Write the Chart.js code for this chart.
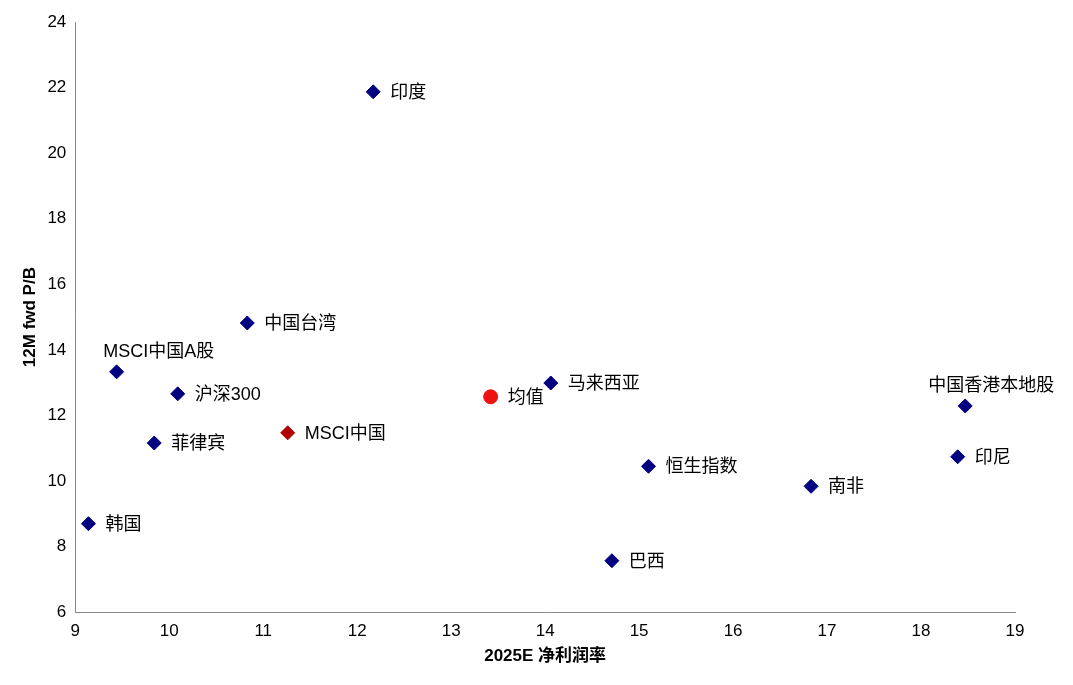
<!DOCTYPE html>
<html><head><meta charset="utf-8">
<script src="https://cdn.jsdelivr.net/npm/chart.js@4"></script>
<style>html,body{margin:0;padding:0;background:#fff}#w{width:1073px;height:685px}</style>
</head><body><div id="w"><canvas id="c"></canvas></div>
<script>
const names = ["印度","中国台湾","MSCI中国A股","沪深300","菲律宾","马来西亚","中国香港本地股","印尼","恒生指数","南非","巴西","韩国"];
const margin = [12.17,10.83,9.44,10.09,9.84,14.06,18.47,18.39,15.10,16.83,14.71,9.14];
const pb = [21.87,14.82,13.33,12.66,11.16,12.99,12.29,10.74,10.45,9.84,7.57,8.70];
const msciName = "MSCI中国", msciX = 11.26, msciY = 11.47;
const avgName = "均值", avgX = 13.42, avgY = 12.57;
const aboveLabels = {"MSCI中国A股":42,"中国香港本地股":26};
const FONT = "'Liberation Sans','Noto Sans CJK SC',sans-serif";

const labelPlugin = {
  id:'lbl',
  afterDatasetsDraw(chart){
    const ctx = chart.ctx;
    ctx.save();
    ctx.fillStyle = '#000';
    ctx.font = "18px " + FONT;
    chart.data.datasets.forEach((ds,di)=>{
      const meta = chart.getDatasetMeta(di);
      meta.data.forEach((pt,i)=>{
        const n = ds.names[i];
        if (n in aboveLabels) {
          ctx.textAlign='center'; ctx.textBaseline='bottom';
          ctx.fillText(n, pt.x + aboveLabels[n], pt.y-11);
        } else {
          ctx.textAlign='left'; ctx.textBaseline='middle';
          ctx.fillText(n, pt.x+17, pt.y+1);
        }
      });
    });
    ctx.restore();
  }
};

new Chart(document.getElementById('c'), {
  type:'scatter',
  data:{datasets:[
    {names:names, data:margin.map((x,i)=>({x:x,y:pb[i]})), pointStyle:'rectRot', pointRadius:7, backgroundColor:'#000080', borderColor:'#000080'},
    {names:[msciName], data:[{x:msciX,y:msciY}], pointStyle:'rectRot', pointRadius:7, backgroundColor:'#b00000', borderColor:'#b00000'},
    {names:[avgName], data:[{x:avgX,y:avgY}], pointStyle:'circle', pointRadius:7, backgroundColor:'#ee1111', borderColor:'#ee1111'}
  ]},
  options:{
    responsive:true, maintainAspectRatio:false, animation:false,
    layout:{padding:{top:22,right:58,left:16,bottom:14}},
    plugins:{legend:{display:false},tooltip:{enabled:false}},
    scales:{
      x:{min:9,max:19,ticks:{stepSize:1,color:'#000',font:{size:17,family:FONT}},
         grid:{display:false,drawTicks:true,tickLength:6},border:{color:'#888'},
         title:{display:true,text:'2025E 净利润率',color:'#000',font:{size:17,weight:'bold',family:FONT},padding:{top:2}}},
      y:{min:6,max:24,ticks:{stepSize:2,color:'#000',font:{size:17,family:FONT}},
         grid:{display:false,tickLength:6},border:{color:'#888'},
         title:{display:true,text:'12M fwd P/B',color:'#000',font:{size:17,weight:'bold',family:FONT}}}
    }
  },
  plugins:[labelPlugin]
});
</script></body></html>
